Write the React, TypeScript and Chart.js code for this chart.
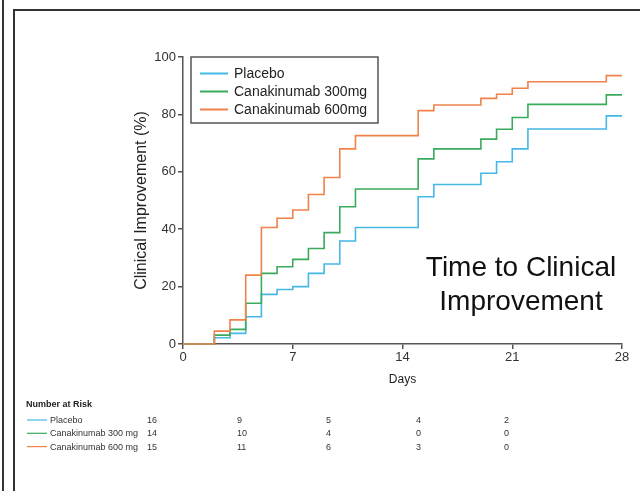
import React, { useEffect, useRef } from "react";
import { Chart, registerables } from "chart.js";

Chart.register(...registerables);

const FONT = '"Liberation Sans", Arial, Helvetica, sans-serif';

const days = [0, 2, 3, 4, 5, 6, 7, 8, 9, 10, 11, 15, 16, 19, 20, 21, 22, 27, 28];
const placebo = [0, 2.2, 3.7, 9.5, 17.3, 19, 20, 24.6, 27.9, 35.9, 40.6, 51.3, 55.6, 59.5, 63.5, 68, 74.9, 79.5, 79.5];
const cana300 = [0, 3.1, 5.1, 14.2, 24.6, 26.9, 29.5, 33.3, 38.8, 47.8, 54, 64.5, 68, 71.4, 74.8, 78.9, 83.5, 86.8, 86.8];
const cana600 = [0, 4.5, 8.4, 24, 40.6, 43.8, 46.7, 52.1, 58, 68, 72.6, 81.3, 83.3, 85.6, 87, 89.1, 91.4, 93.5, 93.5];

const seriesLabels = ["Placebo", "Canakinumab 300mg", "Canakinumab 600mg"];
const seriesColors = ["#45b8e6", "#3aaa5c", "#f0824a"];

const riskLabels = ["Placebo", "Canakinumab 300 mg", "Canakinumab 600 mg"];
const riskPlacebo = [16, 9, 5, 4, 2];
const riskCana300 = [14, 10, 4, 0, 0];
const riskCana600 = [15, 11, 6, 3, 0];

const titleLines = ["Time to Clinical", "Improvement"];

const overlayPlugin = {
  id: "overlay",
  beforeDraw(chart: any) {
    const ctx = chart.ctx;
    ctx.save();
    ctx.fillStyle = "#ffffff";
    ctx.fillRect(0, 0, chart.width, chart.height);
    ctx.restore();
  },
  afterDraw(chart: any) {
    const ctx = chart.ctx;
    ctx.save();
    // frame
    ctx.strokeStyle = "#333333";
    ctx.lineWidth = 2;
    ctx.beginPath();
    ctx.moveTo(3, 0);
    ctx.lineTo(3, chart.height);
    ctx.moveTo(14, chart.height);
    ctx.lineTo(14, 10);
    ctx.lineTo(chart.width, 10);
    ctx.stroke();

    // legend
    const lx = 191, ly = 57, lw = 187, lh = 66;
    ctx.fillStyle = "#ffffff";
    ctx.fillRect(lx, ly, lw, lh);
    ctx.strokeStyle = "#555555";
    ctx.lineWidth = 1.5;
    ctx.strokeRect(lx, ly, lw, lh);
    ctx.font = `14px ${FONT}`;
    ctx.textBaseline = "middle";
    ctx.textAlign = "left";
    chart.data.datasets.forEach((ds: any, i: number) => {
      const y = 73.5 + i * 18;
      ctx.strokeStyle = ds.borderColor;
      ctx.lineWidth = 2;
      ctx.beginPath();
      ctx.moveTo(200, y);
      ctx.lineTo(228, y);
      ctx.stroke();
      ctx.fillStyle = "#222222";
      ctx.fillText(ds.label, 234, y + 0.5);
    });

    // big title
    ctx.fillStyle = "#111111";
    ctx.font = `28px ${FONT}`;
    ctx.textAlign = "center";
    ctx.textBaseline = "middle";
    titleLines.forEach((t, i) => ctx.fillText(t, 521, 268 + i * 34));

    // number at risk table
    ctx.textAlign = "left";
    ctx.fillStyle = "#222222";
    ctx.font = `bold 9px ${FONT}`;
    ctx.fillText("Number at Risk", 26, 405);
    const rows = [riskPlacebo, riskCana300, riskCana600];
    const cols = [147, 237, 326, 416, 504];
    ctx.font = `9px ${FONT}`;
    rows.forEach((vals, i) => {
      const y = 420 + i * 13.3;
      ctx.strokeStyle = seriesColors[i];
      ctx.lineWidth = 1.2;
      ctx.beginPath();
      ctx.moveTo(27, y);
      ctx.lineTo(47, y);
      ctx.stroke();
      ctx.fillStyle = "#333333";
      ctx.fillText(riskLabels[i], 50, y + 0.5);
      vals.forEach((v, j) => ctx.fillText(String(v), cols[j], y + 0.5));
    });
    ctx.restore();
  },
};

export default function App() {
  const ref = useRef<HTMLCanvasElement>(null);
  useEffect(() => {
    if (!ref.current) return;
    Chart.defaults.font.family = FONT;
    const series = [placebo, cana300, cana600];
    const chart = new Chart(ref.current, {
      type: "line",
      data: {
        datasets: series.map((vals, i) => ({
          label: seriesLabels[i],
          data: days.map((d, k) => ({ x: d, y: vals[k] })),
          borderColor: seriesColors[i],
          backgroundColor: seriesColors[i],
          borderWidth: 1.6,
          pointRadius: 0,
          stepped: "before" as const,
          fill: false,
          clip: false as any,
          order: 3 - i,
        })),
      },
      options: {
        animation: false,
        responsive: false,
        layout: { padding: { left: 123, right: 18, top: 57, bottom: 102 } },
        plugins: { legend: { display: false }, tooltip: { enabled: false }, title: { display: false } },
        scales: {
          x: {
            type: "linear",
            min: 0,
            max: 28,
            ticks: { stepSize: 7, color: "#333333", font: { size: 13 }, padding: 1 },
            grid: { drawOnChartArea: false, drawTicks: true, tickLength: 5, color: "#555555", lineWidth: 1.5 },
            border: { display: true, color: "#555555", width: 1.5 },
            title: { display: true, text: "Days", color: "#222222", font: { size: 12 }, padding: { top: 0, bottom: 2 } },
            afterFit: (s: any) => { s.height = 45; },
          },
          y: {
            min: 0,
            max: 100,
            ticks: { stepSize: 20, color: "#333333", font: { size: 13 }, padding: 2 },
            grid: { drawOnChartArea: false, drawTicks: true, tickLength: 5, color: "#555555", lineWidth: 1.5 },
            border: { display: true, color: "#555555", width: 1.5 },
            title: { display: true, text: "Clinical Improvement (%)", color: "#222222", font: { size: 16 }, padding: { top: 9, bottom: 0 } },
            afterFit: (s: any) => { s.width = 60; },
          },
        },
      },
      plugins: [overlayPlugin],
    });
    return () => chart.destroy();
  }, []);
  return (
    <div style={{ position: "absolute", left: 0, top: 0, width: 640, height: 491, overflow: "hidden", background: "#fff" }}>
      <canvas ref={ref} width={640} height={491} style={{ display: "block", width: 640, height: 491 }} />
    </div>
  );
}
